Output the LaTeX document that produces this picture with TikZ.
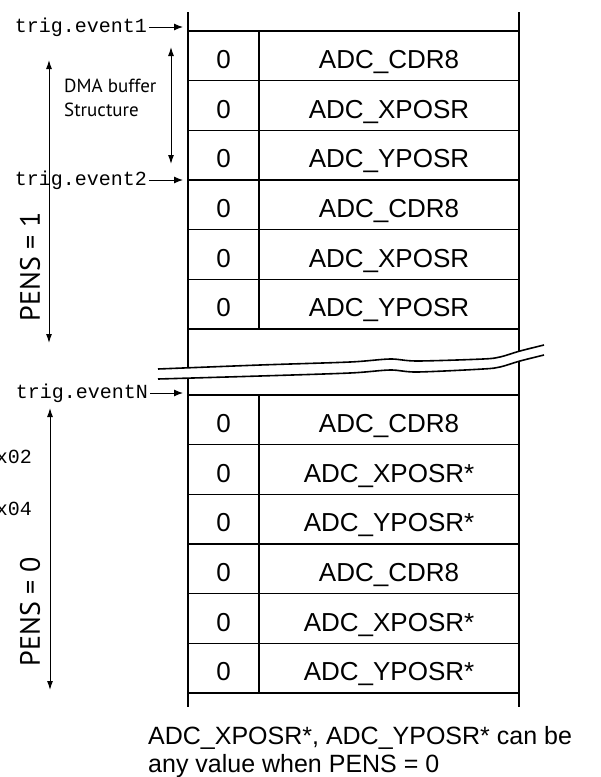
\documentclass[tikz,border=0pt]{standalone}
\usepackage{fontspec}
\setmainfont{Liberation Sans}
\setmonofont{Liberation Mono}
\newfontfamily\labelfont{PT Sans}
\usetikzlibrary{arrows.meta, positioning}

\begin{document}
\begin{tikzpicture}[
  x=1pt, y=-1pt,
  zcell/.style={rectangle, draw=black, line width=1.1pt, outer sep=0pt, inner sep=0pt,
                minimum width=71pt, minimum height=49.67pt, text height=25pt, text depth=0pt,
                font=\fontsize{26}{30}\selectfont},
  ncell/.style={zcell, minimum width=260pt},
  trig/.style={font=\ttfamily\fontsize{20}{24}\selectfont, inner sep=2pt, anchor=east},
  pens/.style={font=\labelfont\fontsize{28}{32}\selectfont, inner sep=0pt, rotate=90},
  arrow/.style={-{Latex[length=9pt,width=7pt]}, line width=1pt},
  dblarrow/.style={{Latex[length=9pt,width=6pt]}-{Latex[length=9pt,width=6pt]}, line width=1pt},
  rail/.style={line width=2.2pt}
]
\useasboundingbox (0,0) rectangle (601,777);

% first block, PENS = 1
\node[zcell, anchor=north west] (z1) at (188,31) {0};
\node[ncell, right=0pt of z1] (n1) {ADC\_CDR8};
\node[zcell, below=0pt of z1] (z2) {0};
\node[ncell, right=0pt of z2] (n2) {ADC\_XPOSR};
\node[zcell, below=0pt of z2] (z3) {0};
\node[ncell, right=0pt of z3] (n3) {ADC\_YPOSR};
\node[zcell, below=0pt of z3] (z4) {0};
\node[ncell, right=0pt of z4] (n4) {ADC\_CDR8};
\node[zcell, below=0pt of z4] (z5) {0};
\node[ncell, right=0pt of z5] (n5) {ADC\_XPOSR};
\node[zcell, below=0pt of z5] (z6) {0};
\node[ncell, right=0pt of z6] (n6) {ADC\_YPOSR};

% second block, PENS = 0
\node[zcell, anchor=north west] (z7) at (188,395) {0};
\node[ncell, right=0pt of z7] (n7) {ADC\_CDR8};
\node[zcell, below=0pt of z7] (z8) {0};
\node[ncell, right=0pt of z8] (n8) {ADC\_XPOSR*};
\node[zcell, below=0pt of z8] (z9) {0};
\node[ncell, right=0pt of z9] (n9) {ADC\_YPOSR*};
\node[zcell, below=0pt of z9] (z10) {0};
\node[ncell, right=0pt of z10] (n10) {ADC\_CDR8};
\node[zcell, below=0pt of z10] (z11) {0};
\node[ncell, right=0pt of z11] (n11) {ADC\_XPOSR*};
\node[zcell, below=0pt of z11] (z12) {0};
\node[ncell, right=0pt of z12] (n12) {ADC\_YPOSR*};

% buffer walls
\coordinate (lt) at (188,12);
\coordinate (lb) at (188,707);
\coordinate (rt) at (519,12);
\coordinate (rb) at (519,707);
\draw[rail] (lt) -- (lb);
\draw[rail] (rt) -- (rb);

% break
\fill[white] plot[smooth] coordinates {(158,369) (260,365) (350,362) (390,359) (417,361) (483,359) (500,357) (520,351) (544,345)}
  -- plot[smooth] coordinates {(544,355) (520,361) (500,367) (483,369) (417,372) (390,370) (350,373) (260,376) (158,379)} -- cycle;
\draw[line width=1.6pt] plot[smooth] coordinates {(158,369) (260,365) (350,362) (390,359) (417,361) (483,359) (500,357) (520,351) (544,345)};
\draw[line width=1.6pt] plot[smooth] coordinates {(158,379) (260,376) (350,373) (390,370) (417,372) (483,369) (500,367) (520,361) (544,355)};

% triggers
\node[trig] (ev1) at (149,27) {trig.event1};
\node[trig] (ev2) at (149,180) {trig.event2};
\node[trig] (evn) at (150,393) {trig.eventN};
\draw[arrow, shorten >=5pt] (ev1) -- (ev1 -| z1.west);
\draw[arrow, shorten >=5pt] (ev2) -- (ev2 -| z4.west);
\draw[arrow, shorten >=5pt] (evn) -- (evn -| z7.west);

% DMA buffer span
\coordinate (dmatop) at (171,47);
\coordinate (dmabot) at (171,164);
\draw[dblarrow] (dmatop) -- (dmabot);
\node[font=\labelfont\fontsize{19}{24}\selectfont, align=left, anchor=west, inner sep=0pt] (dma) at (64,98) {DMA buffer\\Structure};

% PENS spans
\coordinate (p1top) at (49,60);
\coordinate (p1bot) at (49,343);
\draw[dblarrow] (p1top) -- (p1bot);
\node[pens] (pens1) at (30,267) {PENS = 1};
\coordinate (p0top) at (50,408);
\coordinate (p0bot) at (50,690);
\draw[dblarrow] (p0top) -- (p0bot);
\node[pens] (pens0) at (30,612) {PENS = 0};

% values cut at the left edge
\node[trig] (v02) at (34,457) {0x02};
\node[trig] (v04) at (34,509) {0x04};

% note
\node[anchor=north west, align=left, inner sep=0pt, font=\fontsize{25}{28}\selectfont] (note) at (148,726)
  {ADC\_XPOSR*, ADC\_YPOSR* can be\\any value when PENS = 0};
\end{tikzpicture}
\end{document}
